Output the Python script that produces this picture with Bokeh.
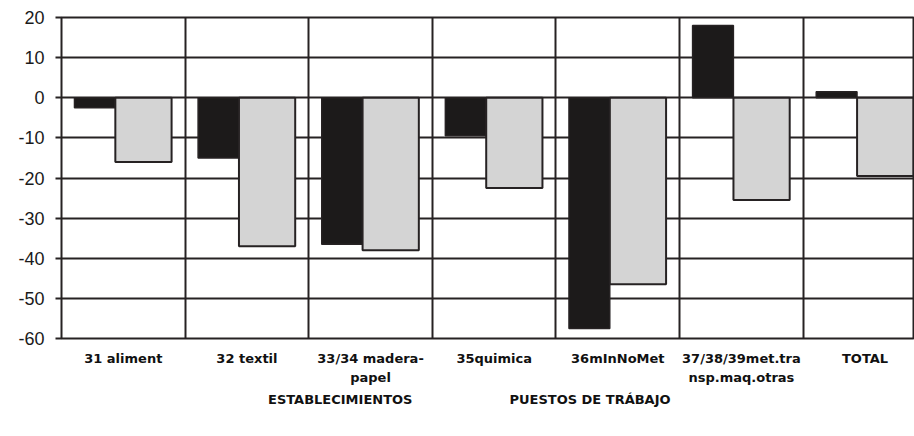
from bokeh.plotting import figure
from bokeh.layouts import column
from bokeh.models import Range1d, FixedTicker, Legend, LegendItem, ColumnDataSource
from bokeh.embed import file_html
from bokeh.resources import INLINE

categories = ["31 aliment", "32 textil", "33/34 madera-\npapel", "35quimica",
              "36mInNoMet", "37/38/39met.tra\nnsp.maq.otras", "TOTAL"]
establecimientos = [-2.5, -15, -36.5, -9.5, -57.5, 18, 1.5]
puestos = [-16, -37, -38, -22.5, -46.5, -25.5, -19.5]
y_ticks = [-60, -50, -40, -30, -20, -10, 0, 10, 20]
series_names = ["ESTABLECIMIENTOS", "PUESTOS DE TRÁBAJO"]

DARK = "#262223"
FONT = "Liberation Sans"
BOLD_FONT = "DejaVu Sans"
BLACK_BAR = dict(fill_color="#1c1a1a", line_color=DARK, line_width=1.5)
GREY_BAR = dict(fill_color="#d4d4d4", line_color=DARK, line_width=2)

idx = list(range(len(categories)))
src = ColumnDataSource(dict(
    xe=[i + 0.27 for i in idx],
    xp=[i + 0.663 for i in idx],
    est=establecimientos,
    pue=puestos,
))

p = figure(frame_width=853, frame_height=321, output_backend="svg", toolbar_location=None,
           x_range=Range1d(0, 6.9), y_range=Range1d(-60, 20),
           min_border_left=61, min_border_top=17, min_border_right=0,
           min_border_bottom=50, background_fill_color="white",
           border_fill_color="white")

p.vbar(x="xe", top="est", bottom=0, width=0.33, source=src, **BLACK_BAR)
p.vbar(x="xp", top="pue", bottom=0, width=0.455, source=src, **GREY_BAR)

p.outline_line_color = DARK
p.outline_line_width = 2

# grids
p.xgrid.ticker = FixedTicker(ticks=list(range(len(categories) + 1)))
p.xgrid.grid_line_color = DARK
p.xgrid.grid_line_width = 2
p.ygrid.ticker = FixedTicker(ticks=y_ticks)
p.ygrid.grid_line_color = DARK
p.ygrid.grid_line_width = 2

# y axis
p.yaxis.ticker = FixedTicker(ticks=y_ticks)
p.yaxis.major_label_overrides = {t: str(t) for t in y_ticks}
p.yaxis.axis_line_color = None
p.yaxis.major_tick_out = 6
p.yaxis.major_tick_in = 0
p.yaxis.major_tick_line_color = DARK
p.yaxis.major_tick_line_width = 2
p.yaxis.minor_tick_line_color = None
p.yaxis.major_label_standoff = 11
p.yaxis.major_label_text_font = FONT
p.yaxis.major_label_text_font_size = "18px"
p.yaxis.major_label_text_color = "#1a1a1a"

# x axis
centers = [i + 0.5 for i in idx]
p.xaxis.ticker = FixedTicker(ticks=centers)
p.xaxis.major_label_overrides = {c: lab for c, lab in zip(centers, categories)}
p.xaxis.axis_line_color = None
p.xaxis.major_tick_line_color = None
p.xaxis.minor_tick_line_color = None
p.xaxis.major_tick_out = 0
p.xaxis.major_label_standoff = 12
p.xaxis.major_label_text_font = BOLD_FONT
p.xaxis.major_label_text_font_style = "bold"
p.xaxis.major_label_text_font_size = "13px"
p.xaxis.major_label_text_color = "#111111"
p.xaxis.major_label_text_line_height = 1.3

# legend strip: legend-only renderers with the same styles (no data drawn)
lf = figure(width=914, height=48, output_backend="svg", toolbar_location=None,
            x_range=Range1d(0, 1), y_range=Range1d(0, 1),
            x_axis_location=None, y_axis_location=None,
            min_border_left=0, min_border_right=0, min_border_top=0,
            min_border_bottom=0, outline_line_color=None,
            background_fill_color="white", border_fill_color="white")
lf.xgrid.visible = False
lf.ygrid.visible = False
empty = ColumnDataSource(dict(xe=[], xp=[], est=[], pue=[]))
lr1 = lf.vbar(x="xe", top="est", bottom=0, width=0.33, source=empty, **BLACK_BAR)
lr2 = lf.vbar(x="xp", top="pue", bottom=0, width=0.455, source=empty, **GREY_BAR)

legend = Legend(items=[LegendItem(label=series_names[0], renderers=[lr1]),
                       LegendItem(label=series_names[1], renderers=[lr2])],
                orientation="horizontal", location=(192, 29),
                label_text_font=BOLD_FONT, label_text_font_style="bold",
                label_text_font_size="13px", label_text_color="#111111",
                glyph_width=12, glyph_height=12, label_standoff=3,
                spacing=82, border_line_color=None, padding=0, margin=0,
                background_fill_alpha=0, label_height=12)
lf.add_layout(legend)

layout = column(p, lf, spacing=0)
open("out.html", "w").write(file_html(layout, INLINE))
